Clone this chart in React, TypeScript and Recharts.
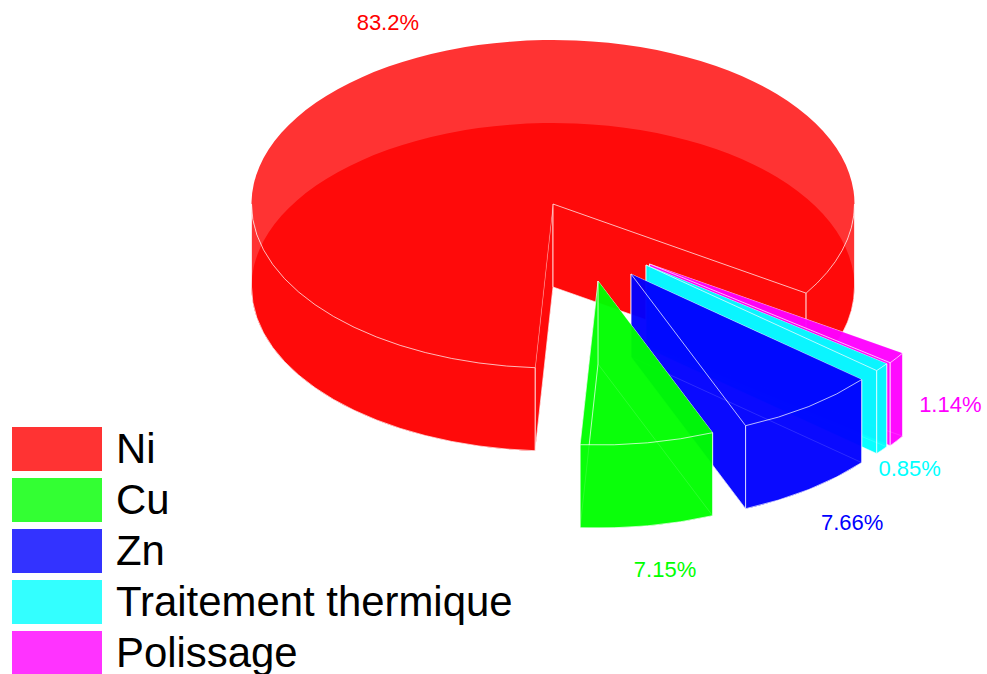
import { Legend, Pie, PieChart } from "recharts";

const CATEGORIES = ["Ni", "Cu", "Zn", "Traitement thermique", "Polissage"];
const VALUES = [83.2, 7.15, 7.66, 0.85, 1.14];
const COLORS = ["#ff0000", "#00ff00", "#0000ff", "#00ffff", "#ff00ff"];
// painted back to front, and clockwise from the lower cut of the big slice
const DRAW_ORDER = [0, 4, 3, 2, 1];

const RX = 301.5;
const RY = 164;
const DEPTH = 83;
const ALPHA = 0.8;

// how far each slice is pulled out of the pie, [dx, dy]
const EXPLODE: Record<string, number[]> = {
  Ni: [0, 0],
  Cu: [45, 77],
  Zn: [78, 70],
  "Traitement thermique": [93, 61],
  Polissage: [96.5, 60],
};
const LABEL_NUDGE: Record<string, number[]> = {
  Ni: [5, 1],
  Cu: [5, 3],
  Zn: [-1, 0],
  "Traitement thermique": [-31, -7],
  Polissage: [-8, -60],
};

const rows = DRAW_ORDER.map((i) => ({ name: CATEGORIES[i], value: VALUES[i], fill: COLORS[i] }));

const rad = (deg: number) => (deg * Math.PI) / 180;

function Slice3D(props: any) {
  const { cx, cy, startAngle, endAngle, fill, name, payload } = props;
  const key = name ?? payload?.name;
  const [dx, dy] = EXPLODE[key];
  const x0 = cx + dx;
  const y0 = cy + dy;
  const lo = Math.min(startAngle, endAngle);
  const hi = Math.max(startAngle, endAngle);
  const pt = (a: number, h: number) => `${x0 + RX * Math.cos(rad(a))} ${y0 - RY * Math.sin(rad(a)) + h}`;
  const large = hi - lo > 180 ? 1 : 0;
  const face = (h: number) =>
    `M${x0} ${y0 + h} L${pt(lo, h)} A${RX} ${RY} 0 ${large} 0 ${pt(hi, h)} Z`;
  const cut = (a: number) => `M${x0} ${y0} L${pt(a, 0)} L${pt(a, DEPTH)} L${x0} ${y0 + DEPTH} Z`;

  // the rim only shows on the front half of the ellipse
  const rims: string[] = [];
  [[-180, 0], [180, 360]].forEach(([r0, r1]) => {
    const s = Math.max(lo, r0);
    const e = Math.min(hi, r1);
    if (s < e) {
      rims.push(
        `M${pt(s, 0)} A${RX} ${RY} 0 0 0 ${pt(e, 0)} L${pt(e, DEPTH)} A${RX} ${RY} 0 0 1 ${pt(s, DEPTH)} Z`
      );
    }
  });

  const edge = { stroke: "#ffffff", strokeOpacity: 0.7, strokeWidth: 1 };
  return (
    <g fill={fill} fillOpacity={ALPHA}>
      <path d={face(DEPTH)} />
      <path d={cut(hi)} {...edge} />
      <path d={face(0)} />
      <path d={cut(lo)} {...edge} />
      {rims.map((d) => (
        <path key={d} d={d} {...edge} />
      ))}
    </g>
  );
}

function renderLabel(props: any) {
  const { cx, cy, midAngle, name, value, fill } = props;
  const [dx, dy] = EXPLODE[name];
  const [nx, ny] = LABEL_NUDGE[name];
  const s = Math.sin(rad(midAngle));
  const x = cx + dx + RX * 1.25 * Math.cos(rad(midAngle)) + nx;
  const y = cy + dy - RY * 1.25 * s + (s < 0 ? DEPTH : 0) + ny;
  return (
    <text x={x} y={y} fill={fill} textAnchor="middle" dominantBaseline="central" fontSize={22}>
      {value}%
    </text>
  );
}

function LegendBox() {
  return (
    <div>
      {CATEGORIES.map((name, i) => (
        <div key={name} style={{ display: "flex", alignItems: "center", height: 51 }}>
          <div
            style={{
              width: 90,
              height: 44,
              background: COLORS[i],
              opacity: ALPHA,
              marginRight: 14,
              flex: "none",
            }}
          />
          <span style={{ fontSize: 41.9, color: "#000", whiteSpace: "nowrap", lineHeight: "44px" }}>{name}</span>
        </div>
      ))}
    </div>
  );
}

export default function App() {
  return (
    <div style={{ position: "absolute", left: 0, top: 0, width: 987, height: 674, overflow: "hidden", fontFamily: "'Liberation Sans', Arial, sans-serif" }}>
      <PieChart width={987} height={674} margin={{ top: 0, right: 0, bottom: 0, left: 0 }}>
        <Pie
          data={rows}
          dataKey="value"
          nameKey="name"
          cx={553}
          cy={204}
          outerRadius={RX}
          startAngle={266.6}
          endAngle={-93.4}
          stroke="none"
          shape={Slice3D}
          label={renderLabel}
          labelLine={false}
          isAnimationActive={false}
        />
        <Legend
          content={() => <LegendBox />}
          wrapperStyle={{ position: "absolute", left: 12, top: 423, width: 520, bottom: "auto" }}
        />
      </PieChart>
    </div>
  );
}
